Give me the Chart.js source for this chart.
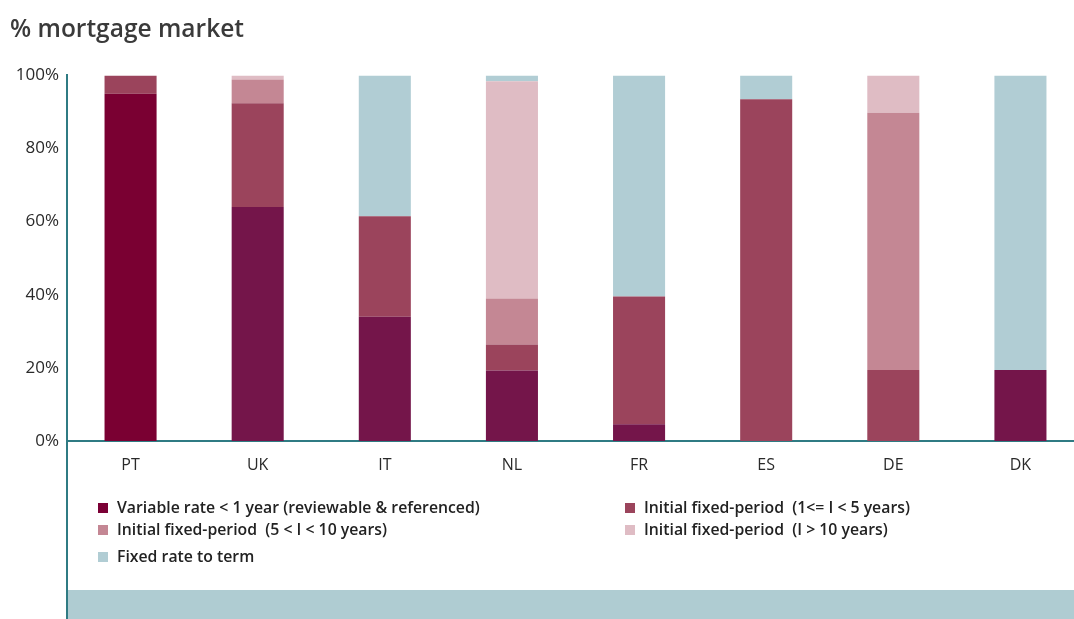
<!DOCTYPE html>
<html>
<head>
<meta charset="utf-8">
<script src="https://cdn.jsdelivr.net/npm/chart.js@4/dist/chart.umd.min.js"></script>
<style>
  html, body { margin: 0; padding: 0; background: #ffffff; overflow: hidden; }
  #wrap { position: relative; width: 1084px; height: 619px; }
</style>
</head>
<body>
<div id="wrap"><canvas id="c" width="1084" height="619"></canvas></div>
<script>
// Share of each mortgage type in the national market (%)
const countries    = ['PT', 'UK', 'IT', 'NL', 'FR', 'ES', 'DE', 'DK'];
const variableRate = [95,   64,   34,   19.3, 4.6,  0,    0,    19.4];
const fixed1to5    = [5,    28.4, 27.5, 7.1,  34.9, 93.5, 19.4, 0];
const fixed5to10   = [0,    6.5,  0,    12.6, 0,    0,    70.4, 0];
const fixedOver10  = [0,    1.1,  0,    59.4, 0,    0,    10.2, 0];
const fixedToTerm  = [0,    0,    38.5, 1.6,  60.5, 6.5,  0,    80.6];
const yTicks       = [0, 20, 40, 60, 80, 100];

const seriesNames = [
  'Variable rate < 1 year (reviewable & referenced)',
  'Initial fixed-period  (1<= I < 5 years)',
  'Initial fixed-period  (5 < I < 10 years)',
  'Initial fixed-period  (I > 10 years)',
  'Fixed rate to term'
];

const FONT = '"Open Sans", "DejaVu Sans", sans-serif';
const AXIS = '#2f7b83';
const BAND = '#afccd2';
const swatch = ['#7b0035', '#9b445c', '#c48794', '#dfbcc4', '#b1cdd4'];
const variableColors = countries.map((c, i) => i === 0 ? '#7a0032' : '#74154a');

// legend placement: [x of swatch, y of row centre]
const legendSlots = [[98, 508], [625, 508], [98, 530], [625, 530], [98, 557]];

const decor = {
  id: 'decor',
  beforeDraw(chart) {
    const { ctx, chartArea } = chart;
    ctx.save();
    ctx.fillStyle = BAND;
    ctx.fillRect(chartArea.left, 590, chart.width - chartArea.left, chart.height - 590);
    ctx.restore();
  },
  afterDraw(chart) {
    const { ctx, chartArea } = chart;
    ctx.save();
    // y axis line runs on down past the plot
    ctx.strokeStyle = AXIS;
    ctx.lineWidth = 2;
    ctx.beginPath();
    ctx.moveTo(chartArea.left, chartArea.bottom);
    ctx.lineTo(chartArea.left, chart.height);
    ctx.stroke();
    // legend
    ctx.font = '600 15.8px ' + FONT;
    ctx.textBaseline = 'middle';
    ctx.textAlign = 'left';
    chart.data.datasets.forEach((ds, i) => {
      const [x, y] = legendSlots[i];
      ctx.fillStyle = swatch[i];
      ctx.fillRect(x, y - 5, 10, 10);
      ctx.fillStyle = '#222222';
      ctx.fillText(ds.label, x + 19, y);
    });
    ctx.restore();
  }
};

const seriesValues = [variableRate, fixed1to5, fixed5to10, fixedOver10, fixedToTerm];
const seriesColors = [variableColors, swatch[1], swatch[2], swatch[3], swatch[4]];

new Chart(document.getElementById('c'), {
  type: 'bar',
  data: {
    labels: countries,
    datasets: seriesValues.map((vals, i) => ({
      label: seriesNames[i],
      data: vals,
      backgroundColor: seriesColors[i],
      borderWidth: 0,
      categoryPercentage: 1,
      barPercentage: 52 / 127
    }))
  },
  options: {
    responsive: false,
    animation: false,
    devicePixelRatio: 1,
    layout: { padding: { top: 0, left: 10, right: 0, bottom: 0 } },
    plugins: {
      legend: { display: false },
      tooltip: { enabled: false },
      title: {
        display: true,
        text: '% mortgage market',
        align: 'start',
        color: '#3a3a3a',
        font: { family: FONT, size: 24.5, weight: 600 },
        padding: { top: 15, bottom: 31 }
      }
    },
    scales: {
      x: {
        stacked: true,
        grid: { display: false, drawTicks: false },
        border: { color: AXIS, width: 2 },
        ticks: { color: '#2a2a2a', font: { family: FONT, size: 16 }, padding: 15 },
        afterFit(scale) { scale.height = 178; }
      },
      y: {
        stacked: true,
        min: 0,
        max: 100,
        afterBuildTicks(scale) { scale.ticks = yTicks.map(v => ({ value: v })); },
        grid: { display: false, drawTicks: false },
        border: { color: AXIS, width: 2 },
        ticks: {
          color: '#2a2a2a',
          font: { family: FONT, size: 17 },
          padding: 8,
          callback: v => v + '%'
        },
        afterFit(scale) { scale.width = 57; }
      }
    }
  },
  plugins: [decor]
});
</script>
</body>
</html>
